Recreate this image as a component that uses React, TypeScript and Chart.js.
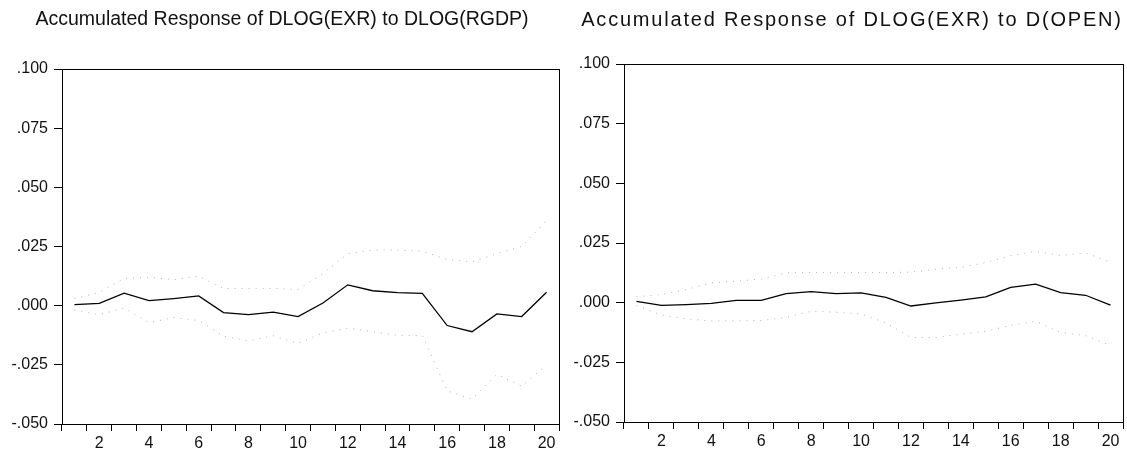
import React, { useEffect, useRef } from "react";
import { Chart, registerables } from "chart.js";

Chart.register(...registerables);

const periods = ["1", "2", "3", "4", "5", "6", "7", "8", "9", "10", "11", "12", "13", "14", "15", "16", "17", "18", "19", "20"];

const leftTitle = "Accumulated Response of DLOG(EXR) to DLOG(RGDP)";
const rightTitle = "Accumulated Response of DLOG(EXR) to D(OPEN)";

const rgdpResponse = [0.0004, 0.001, 0.0053, 0.0021, 0.003, 0.0041, -0.0029, -0.0038, -0.0027, -0.0046, 0.0011, 0.0088, 0.0063, 0.0055, 0.0052, -0.0084, -0.011, -0.0035, -0.0046, 0.0057];
const rgdpUpper = [0.003, 0.0056, 0.0115, 0.012, 0.011, 0.0125, 0.0072, 0.0073, 0.0073, 0.0068, 0.0135, 0.022, 0.0235, 0.0235, 0.023, 0.0195, 0.0185, 0.022, 0.025, 0.036];
const rgdpLower = [-0.002, -0.0038, -0.001, -0.0072, -0.005, -0.0063, -0.0128, -0.0149, -0.0127, -0.016, -0.0115, -0.0095, -0.011, -0.0125, -0.0126, -0.036, -0.0395, -0.029, -0.034, -0.025];

const openResponse = [0.0005, -0.0011, -0.0008, -0.0003, 0.001, 0.001, 0.0038, 0.0046, 0.0038, 0.0041, 0.0022, -0.0014, -0.0001, 0.0011, 0.0024, 0.0064, 0.0078, 0.0042, 0.0031, -0.001];
const openUpper = [0.0025, 0.0034, 0.0055, 0.0083, 0.009, 0.0099, 0.0125, 0.0127, 0.0125, 0.0127, 0.0126, 0.0128, 0.014, 0.0148, 0.0168, 0.0197, 0.0215, 0.0198, 0.0208, 0.017];
const openLower = [-0.0012, -0.0052, -0.0068, -0.0077, -0.0076, -0.0075, -0.0062, -0.0036, -0.004, -0.0047, -0.0085, -0.0146, -0.0146, -0.0132, -0.012, -0.0095, -0.0078, -0.0125, -0.0138, -0.018];

const yMin = -0.05;
const yMax = 0.1;
const yStep = 0.025;

const FONT = "'Liberation Sans', Arial, sans-serif";

function fmtTick(v: number): string {
  const s = Math.abs(v).toFixed(3).replace(/^0/, "");
  return (v < -1e-9 ? "-" : "") + s;
}

const boxPlugin = {
  id: "boxBorder",
  afterDraw(chart: any) {
    const { ctx, chartArea } = chart;
    ctx.save();
    ctx.strokeStyle = "#000";
    ctx.lineWidth = 1;
    ctx.strokeRect(
      Math.round(chartArea.left) + 0.5,
      Math.round(chartArea.top) + 0.5,
      Math.round(chartArea.right - chartArea.left),
      Math.round(chartArea.bottom - chartArea.top)
    );
    ctx.restore();
  },
};

type PanelProps = {
  title: string;
  titleX: number;
  titleSize: number;
  titleSpacing: number;
  response: number[];
  upper: number[];
  lower: number[];
  left: number;
  width: number;
  yAxisWidth: number;
  rightPad: number;
  topArea: number;
  bottomArea: number;
};

function Panel(p: PanelProps) {
  const ref = useRef<HTMLCanvasElement | null>(null);
  useEffect(() => {
    if (!ref.current) return;
    const bandStyle = {
      borderColor: "#b4b4b4",
      borderWidth: 1,
      borderDash: [1, 6],
      pointRadius: 0,
      fill: false,
      tension: 0,
    };
    const titlePlugin = {
      id: "panelTitle",
      afterDraw(chart: any) {
        const ctx = chart.ctx;
        ctx.save();
        ctx.font = `normal ${p.titleSize}px ${FONT}`;
        (ctx as any).letterSpacing = `${p.titleSpacing}px`;
        ctx.fillStyle = "#111";
        ctx.textAlign = "center";
        ctx.textBaseline = "middle";
        ctx.fillText(p.title, p.titleX, 20);
        ctx.restore();
      },
    };
    const chart = new Chart(ref.current, {
      type: "line",
      data: {
        labels: periods,
        datasets: [
          { label: "upper", data: p.upper, ...bandStyle },
          { label: "lower", data: p.lower, ...bandStyle },
          {
            label: "response",
            data: p.response,
            borderColor: "#000",
            borderWidth: 1.3,
            pointRadius: 0,
            fill: false,
            tension: 0,
          },
        ],
      },
      options: {
        animation: false,
        responsive: false,
        devicePixelRatio: 1,
        layout: { padding: { left: 0, right: p.rightPad, top: p.topArea, bottom: 0 } },
        plugins: {
          legend: { display: false },
          tooltip: { enabled: false },
          title: { display: false },
        },
        scales: {
          x: {
            type: "category",
            offset: true,
            grid: {
              offset: true,
              drawOnChartArea: false,
              drawTicks: true,
              tickLength: 7,
              color: "#000",
            },
            border: { display: true, color: "#000", width: 1 },
            ticks: {
              autoSkip: false,
              maxRotation: 0,
              padding: 3,
              color: "#111",
              font: { family: FONT, size: 16 },
              callback: (_v: any, i: number) => ((i + 1) % 2 === 0 ? periods[i] : ""),
            },
            afterFit: (scale: any) => {
              scale.height = p.bottomArea;
            },
          },
          y: {
            min: yMin,
            max: yMax,
            grid: {
              drawOnChartArea: false,
              drawTicks: true,
              tickLength: 8,
              color: "#000",
            },
            border: { display: true, color: "#000", width: 1 },
            ticks: {
              stepSize: yStep,
              padding: 6,
              color: "#111",
              font: { family: FONT, size: 16 },
              callback: (v: any) => fmtTick(Number(v)),
            },
            afterFit: (scale: any) => {
              scale.width = p.yAxisWidth;
            },
          },
        },
      },
      plugins: [boxPlugin, titlePlugin],
    } as any);
    return () => chart.destroy();
  }, []);
  return (
    <div style={{ position: "absolute", left: p.left, top: 0, width: p.width, height: 452 }}>
      <canvas ref={ref} width={p.width} height={452} style={{ display: "block" }} />
    </div>
  );
}

export default function App() {
  return (
    <div style={{ position: "absolute", left: 0, top: 0, width: 1127, height: 452, background: "#fff", overflow: "hidden" }}>
      <Panel
        title={leftTitle}
        titleX={282}
        titleSize={19.5}
        titleSpacing={0}
        response={rgdpResponse}
        upper={rgdpUpper}
        lower={rgdpLower}
        left={0}
        width={564}
        yAxisWidth={62}
        rightPad={5}
        topArea={69}
        bottomArea={28}
      />
      <Panel
        title={rightTitle}
        titleX={288}
        titleSize={20}
        titleSpacing={1.8}
        response={openResponse}
        upper={openUpper}
        lower={openLower}
        left={564}
        width={563}
        yAxisWidth={60}
        rightPad={4}
        topArea={64}
        bottomArea={30}
      />
    </div>
  );
}
